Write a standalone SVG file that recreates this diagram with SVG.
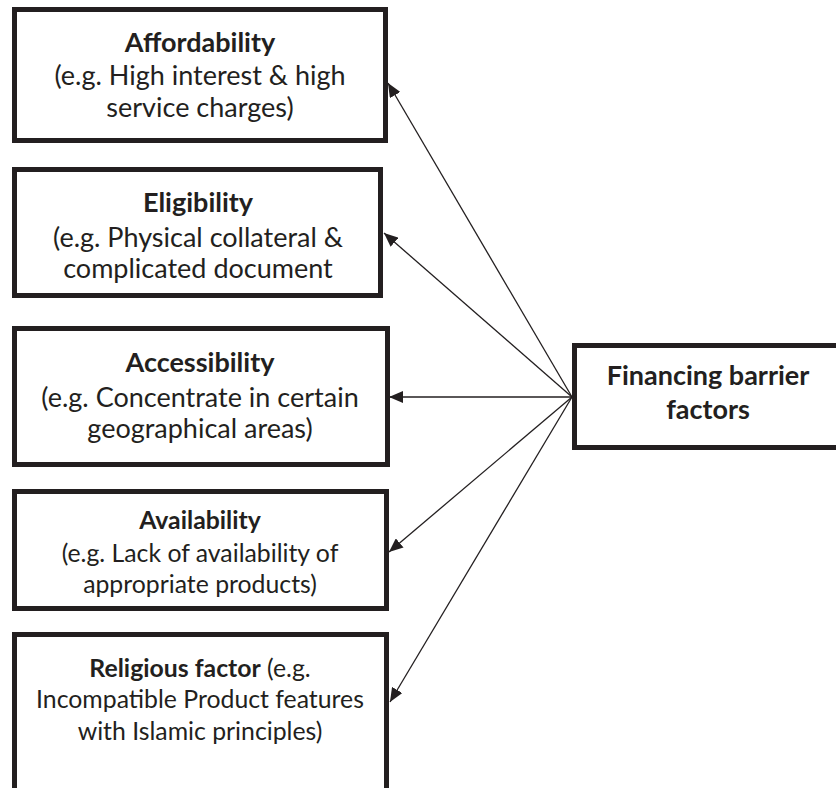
<svg xmlns="http://www.w3.org/2000/svg" width="836" height="788" viewBox="0 0 836 788">
  <style>
    .box { fill: #ffffff; stroke: #231f20; stroke-width: 5; }
    .t { font-family: Lato, "Open Sans", sans-serif; fill: #231f20; text-anchor: middle; }
    .big { font-size: 27px; }
    .small { font-size: 24.8px; }
    .b { font-weight: bold; }
    .link { stroke: #231f20; stroke-width: 1.3; fill: none; marker-end: url(#head); }
  </style>
  <defs>
    <marker id="head" markerUnits="userSpaceOnUse" viewBox="0 0 14 12" refX="14" refY="6" markerWidth="14" markerHeight="12" orient="auto">
      <path d="M0,0 L14,6 L0,12 Z" fill="#231f20"/>
    </marker>
  </defs>

  <g id="connectors">
    <line class="link" x1="572" y1="397" x2="388" y2="83"/>
    <line class="link" x1="572" y1="397" x2="384" y2="233"/>
    <line class="link" x1="572" y1="397" x2="389" y2="397"/>
    <line class="link" x1="572" y1="397" x2="389" y2="552"/>
    <line class="link" x1="572" y1="397" x2="390" y2="702"/>
  </g>

  <g id="affordability">
    <rect class="box" x="14.5" y="9.5" width="371" height="131"/>
    <text class="t big b" x="200" y="52">Affordability</text>
    <text class="t big" x="200" y="85">(e.g. High interest &amp; high</text>
    <text class="t big" x="200" y="117">service charges)</text>
  </g>

  <g id="eligibility">
    <rect class="box" x="14.5" y="169.5" width="366" height="126"/>
    <text class="t big b" x="198" y="212">Eligibility</text>
    <text class="t big" x="198" y="247">(e.g. Physical collateral &amp;</text>
    <text class="t big" x="198" y="278">complicated document</text>
  </g>

  <g id="accessibility">
    <rect class="box" x="14.5" y="328.5" width="373" height="136"/>
    <text class="t big b" x="200" y="372">Accessibility</text>
    <text class="t big" x="200" y="407">(e.g. Concentrate in certain</text>
    <text class="t big" x="200" y="438">geographical areas)</text>
  </g>

  <g id="availability">
    <rect class="box" x="14.5" y="491.5" width="372" height="117"/>
    <text class="t small b" x="200" y="529">Availability</text>
    <text class="t small" x="200" y="562">(e.g. Lack of availability of</text>
    <text class="t small" x="200" y="593">appropriate products)</text>
  </g>

  <g id="religious-factor">
    <rect class="box" x="14.5" y="634.5" width="372" height="160"/>
    <text class="t small" x="200" y="677"><tspan class="b">Religious factor</tspan> (e.g.</text>
    <text class="t small" x="200" y="708">Incompatible Product features</text>
    <text class="t small" x="200" y="740">with Islamic principles)</text>
  </g>

  <g id="financing-barrier-factors">
    <rect class="box" x="574.5" y="345.5" width="280" height="102"/>
    <text class="t big b" x="708" y="385">Financing barrier</text>
    <text class="t big b" x="708" y="419">factors</text>
  </g>
</svg>
